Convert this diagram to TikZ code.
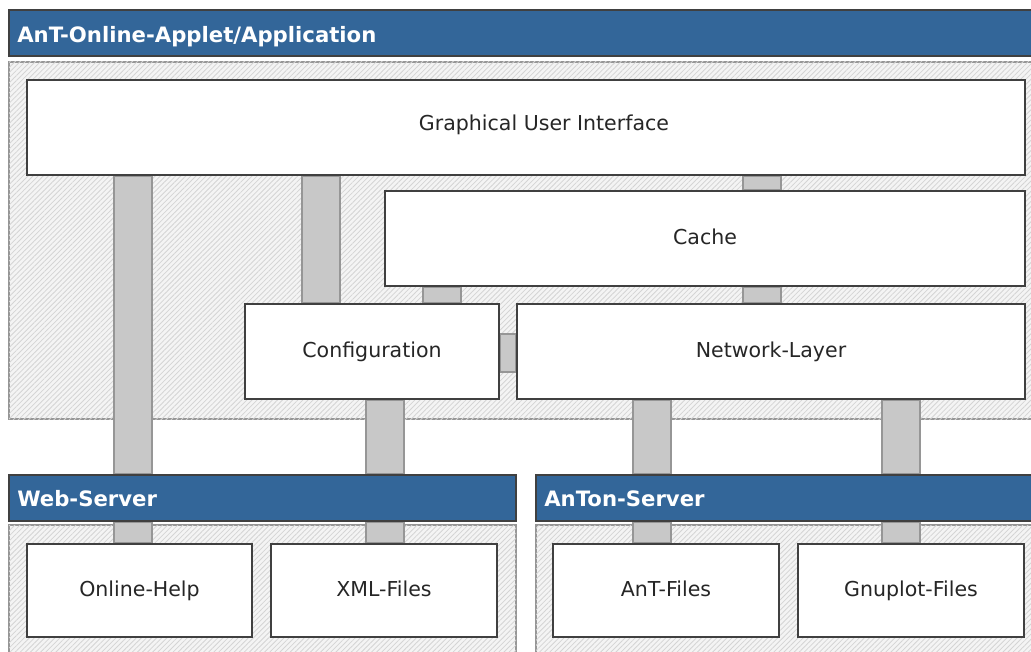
\documentclass[tikz,border=0pt]{standalone}
\usepackage{fontspec}
\setmainfont{DejaVu Sans}
\usetikzlibrary{fit,patterns.meta}
\definecolor{headblue}{RGB}{51,102,153}
\definecolor{boxline}{RGB}{64,64,64}
\definecolor{barfill}{RGB}{200,200,200}
\definecolor{barline}{RGB}{150,150,150}
\definecolor{hatchbg}{RGB}{244,244,244}
\definecolor{hatchline}{RGB}{212,212,212}
\pgfdeclarelayer{back}
\pgfdeclarelayer{mid}
\pgfsetlayers{back,mid,main}

\begin{document}
\begin{tikzpicture}[x=0.75pt,y=-0.75pt,
  every node/.style={font=\fontsize{15.4}{18}\selectfont,inner sep=0pt},
  area/.style={draw=barline,line width=1.5pt,fill=hatchbg,
    postaction={pattern={Lines[angle=45,distance=2.7pt,line width=0.6pt]},pattern color=hatchline}},
  box/.style={draw=boxline,line width=1.5pt,fill=white},
  boxtext/.style={text=black!85,text height=0.75em,text depth=0.25em,yshift=-2pt},
  head/.style={draw=boxline,line width=1.2pt,fill=headblue},
  headtext/.style={text=white,font=\fontsize{15.9}{18}\selectfont\bfseries,anchor=base west},
  link/.style={draw=barline,line width=1.5pt,fill=barfill}]
\clip (0,0) rectangle (1031,652);
\useasboundingbox (0,0) rectangle (1031,652);

% application
\node[head,fit={(9,10) (1045,56)}] (apphead) {};
\node[headtext] (apptitle) at (17,43) {AnT-Online-Applet/Application};
\node[box,fit={(27,80) (1025,175)},label={[boxtext,xshift=13.5pt,yshift=2.5pt]center:Graphical User Interface}] (gui) {};
\node[box,fit={(385,191) (1025,286)},label={[boxtext]center:Cache}] (cache) {};
\node[box,fit={(245,304) (499,399)},label={[boxtext]center:Configuration}] (config) {};
\node[box,fit={(517,304) (1025,399)},label={[boxtext]center:Network-Layer}] (net) {};

% servers
\node[head,fit={(9,475) (516,521)}] (webhead) {};
\node[headtext] (webtitle) at (17,506) {Web-Server};
\node[head,fit={(536,475) (1045,521)}] (antonhead) {};
\node[headtext] (antontitle) at (544,506) {AnTon-Server};
\node[box,fit={(27,544) (252,637)},label={[boxtext]center:Online-Help}] (help) {};
\node[box,fit={(271,544) (497,637)},label={[boxtext]center:XML-Files}] (xml) {};
\node[box,fit={(553,544) (779,637)},label={[boxtext]center:AnT-Files}] (antfiles) {};
\node[box,fit={(798,544) (1024,637)},label={[boxtext]center:Gnuplot-Files}] (gnuplot) {};

\begin{pgfonlayer}{back}
\node[area,fit={(9,62) (1045,419)}] (apparea) {};
\node[area,fit={(9,525) (516,665)}] (webarea) {};
\node[area,fit={(536,525) (1045,665)}] (antonarea) {};
\end{pgfonlayer}

% connections
\begin{pgfonlayer}{mid}
\draw[link] (114,0 |- gui.south) rectangle (152,0 |- webhead.north);
\draw[link] (114,0 |- webhead.south) rectangle (152,0 |- help.north);
\draw[link] (302,0 |- gui.south) rectangle (340,0 |- config.north);
\draw[link] (743,0 |- gui.south) rectangle (781,0 |- cache.north);
\draw[link] (423,0 |- cache.south) rectangle (461,0 |- config.north);
\draw[link] (743,0 |- cache.south) rectangle (781,0 |- net.north);
\draw[link] (config.east |- 0,334) rectangle (net.west |- 0,372);
\draw[link] (366,0 |- config.south) rectangle (404,0 |- webhead.north);
\draw[link] (366,0 |- webhead.south) rectangle (404,0 |- xml.north);
\draw[link] (633,0 |- net.south) rectangle (671,0 |- antonhead.north);
\draw[link] (633,0 |- antonhead.south) rectangle (671,0 |- antfiles.north);
\draw[link] (882,0 |- net.south) rectangle (920,0 |- antonhead.north);
\draw[link] (882,0 |- antonhead.south) rectangle (920,0 |- gnuplot.north);
\end{pgfonlayer}
\end{tikzpicture}
\end{document}
